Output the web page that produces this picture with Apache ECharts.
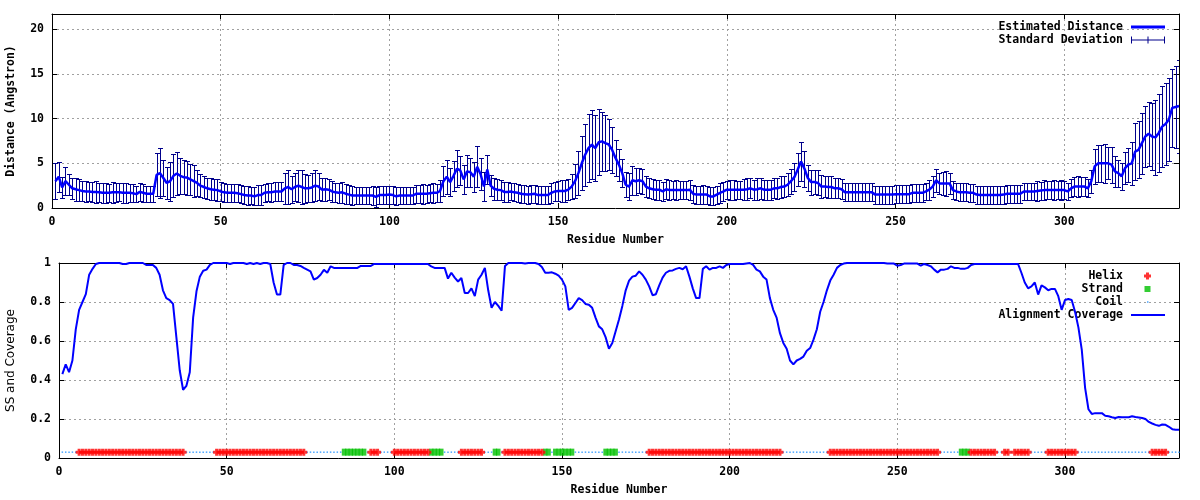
<!DOCTYPE html>
<html><head><meta charset="utf-8">
<script src="https://cdn.jsdelivr.net/npm/echarts@6/dist/echarts.min.js"></script>
<style>html,body{margin:0;padding:0;background:#fff}#c{width:1200px;height:500px}</style>
</head><body><div id="c"></div>
<script>
// ---------------- data ----------------
const residueCount = 334;

const distanceMean = [
3.0,3.5,2.3,3.0,2.6,2.2,2.1,2.0,1.9,1.85,
1.85,1.8,1.8,1.75,1.7,1.7,1.7,1.75,1.75,1.75,
1.7,1.7,1.7,1.65,1.55,1.8,1.7,1.6,1.6,1.6,
3.7,3.9,3.35,2.8,3.0,3.6,3.85,3.6,3.45,3.4,
3.2,3.0,2.8,2.5,2.35,2.2,2.1,2.05,2.0,1.85,
1.75,1.7,1.7,1.7,1.65,1.55,1.45,1.4,1.4,1.3,
1.45,1.45,1.7,1.75,1.75,1.85,1.85,1.85,2.2,2.35,
2.1,2.35,2.5,2.35,2.2,2.2,2.3,2.5,2.4,2.05,
2.1,2.05,1.85,1.75,1.7,1.75,1.6,1.5,1.4,1.4,
1.4,1.4,1.4,1.4,1.4,1.25,1.45,1.45,1.45,1.5,
1.45,1.3,1.4,1.4,1.4,1.4,1.4,1.6,1.6,1.6,
1.6,1.65,1.7,1.7,1.9,3.0,3.5,2.9,3.6,4.4,
4.2,3.2,4.1,4.0,3.5,4.6,3.8,2.4,4.3,2.5,
2.15,2.05,2.0,1.8,1.8,1.85,1.75,1.7,1.6,1.55,
1.5,1.55,1.6,1.45,1.45,1.45,1.45,1.7,1.85,1.9,
1.9,1.9,2.05,2.4,3.0,3.9,5.0,5.95,6.7,7.1,
6.7,7.35,7.45,7.25,7.1,6.5,5.6,4.85,3.9,2.6,
2.4,3.1,3.0,3.1,3.0,2.4,2.2,2.1,2.05,2.05,
1.85,2.1,2.0,2.0,2.0,2.0,2.0,2.0,2.05,1.6,
1.5,1.5,1.5,1.5,1.3,1.3,1.5,1.7,1.85,2.05,
2.05,2.05,2.05,2.05,2.05,2.1,2.2,2.05,2.1,2.2,
2.05,2.05,2.05,2.2,2.2,2.35,2.4,2.6,3.0,3.45,
4.3,5.2,4.4,3.35,2.9,2.9,2.8,2.4,2.4,2.35,
2.35,2.2,2.2,2.1,1.75,1.75,1.75,1.75,1.75,1.75,
1.75,1.75,1.75,1.5,1.5,1.5,1.5,1.5,1.5,1.55,
1.55,1.55,1.55,1.55,1.7,1.7,1.7,1.7,1.85,2.05,
2.4,3.1,2.75,2.75,2.75,2.75,2.0,1.85,1.75,1.75,
1.75,1.7,1.7,1.5,1.45,1.45,1.45,1.45,1.45,1.45,
1.45,1.5,1.6,1.6,1.6,1.6,1.6,1.85,1.85,1.85,
1.85,1.9,1.95,2.0,2.0,2.0,2.0,2.0,2.0,2.0,
1.85,2.2,2.4,2.4,2.4,2.4,2.2,3.0,4.65,5.0,
5.0,5.0,5.0,4.85,4.1,3.9,3.55,4.45,4.85,5.0,
6.3,6.5,7.25,8.0,8.3,8.0,7.9,8.4,9.1,9.4,
9.9,11.2,11.3,11.4
];

const distanceSD = [
2.0,1.7,1.2,1.6,1.2,1.2,1.3,1.2,1.1,1.2,
1.1,1.1,1.2,1.1,1.1,1.1,1.0,1.2,1.1,1.0,
1.1,1.1,1.0,1.0,0.9,1.0,1.0,0.9,0.9,0.9,
2.4,2.8,2.0,1.8,2.2,2.4,2.4,2.0,1.9,1.9,
1.7,1.8,1.5,1.3,1.2,1.2,1.2,1.2,1.2,1.1,
1.1,1.0,1.0,1.0,1.0,1.0,1.0,1.1,1.0,1.0,
1.1,1.1,1.0,1.0,1.1,1.1,1.1,1.1,1.7,1.9,
1.5,1.6,1.8,1.9,1.6,1.5,1.6,1.7,1.5,1.3,
1.3,1.2,1.2,1.1,1.1,1.2,1.1,1.1,1.1,1.0,
1.0,1.0,1.0,1.0,1.1,1.1,1.0,1.0,1.0,1.0,
1.0,1.0,1.0,1.0,1.0,1.0,1.0,1.0,1.0,1.1,
1.0,1.0,1.1,1.0,1.2,1.7,1.9,1.6,1.7,2.1,
1.6,1.6,1.8,1.6,1.7,2.3,1.8,1.6,1.6,1.2,
1.2,1.2,1.1,1.1,1.1,1.0,1.0,1.0,1.0,1.0,
1.0,1.0,1.0,1.0,1.0,1.0,1.0,1.1,1.1,1.1,
1.2,1.2,1.2,1.4,1.9,2.5,3.0,3.5,3.8,3.9,
3.7,3.7,3.3,3.1,2.9,2.6,2.0,1.8,1.6,1.4,
1.5,1.6,1.5,1.4,1.4,1.2,1.1,1.1,1.1,1.1,
1.1,1.1,1.1,1.0,1.1,1.0,1.0,1.0,1.1,1.0,
1.0,1.0,1.1,1.0,1.0,1.0,1.0,1.1,1.1,1.0,
1.1,1.1,1.0,1.0,1.2,1.2,1.1,1.1,1.2,1.2,
1.1,1.1,1.1,1.1,1.2,1.2,1.2,1.3,1.4,1.6,
1.8,2.2,2.0,1.5,1.4,1.3,1.4,1.3,1.2,1.2,
1.2,1.1,1.1,1.1,1.0,1.0,1.0,1.0,1.0,1.0,
1.0,1.0,1.0,1.0,1.0,1.0,1.0,1.0,1.0,1.0,
1.0,1.0,1.0,1.0,1.0,1.0,1.0,1.0,1.0,1.1,
1.2,1.3,1.2,1.3,1.4,1.2,1.0,1.0,1.0,1.0,
1.0,1.0,1.0,1.0,1.0,1.0,1.0,1.0,1.0,1.0,
1.0,1.0,1.0,1.0,1.0,1.0,1.0,1.0,1.0,1.0,
1.0,1.1,1.0,1.1,1.0,1.0,1.1,1.0,1.1,1.0,
1.0,1.0,1.1,1.2,1.1,1.1,1.0,1.3,2.0,2.1,
2.1,2.2,1.8,2.0,1.7,1.5,1.5,1.8,1.9,2.4,
3.2,3.2,3.4,3.4,3.6,3.8,4.2,4.4,4.5,4.6,
4.6,4.4,4.6,5.2
];

const alignmentCoverage = [
0.43,0.48,0.44,0.50,0.66,0.76,0.80,0.84,0.94,0.97,
0.995,1.0,1.0,1.0,1.0,1.0,1.0,1.0,0.995,0.995,
1.0,1.0,1.0,1.0,1.0,0.99,0.99,0.99,0.975,0.94,
0.86,0.82,0.81,0.79,0.62,0.45,0.35,0.37,0.44,0.72,
0.855,0.93,0.96,0.966,0.99,1.0,1.0,1.0,1.0,1.0,
0.995,1.0,1.0,1.0,1.0,0.995,1.0,0.995,1.0,0.995,
1.0,1.0,0.995,0.90,0.838,0.838,0.99,1.0,1.0,0.99,
0.99,0.985,0.975,0.966,0.957,0.915,0.923,0.94,0.965,0.95,
0.983,0.975,0.975,0.975,0.975,0.975,0.975,0.975,0.975,0.985,
0.985,0.985,0.985,0.995,0.995,0.995,0.995,0.995,0.995,0.995,
0.995,0.995,0.995,0.995,0.995,0.995,0.995,0.995,0.995,0.995,
0.983,0.975,0.975,0.975,0.975,0.92,0.95,0.925,0.905,0.923,
0.846,0.846,0.87,0.83,0.915,0.94,0.975,0.86,0.77,0.80,
0.78,0.755,0.985,1.0,1.0,1.0,1.0,1.0,0.997,1.0,
1.0,1.0,0.995,0.98,0.95,0.95,0.952,0.945,0.935,0.915,
0.88,0.76,0.77,0.795,0.82,0.81,0.79,0.786,0.77,0.72,
0.675,0.66,0.62,0.56,0.59,0.65,0.71,0.78,0.86,0.91,
0.93,0.935,0.957,0.94,0.915,0.88,0.835,0.84,0.885,0.925,
0.95,0.96,0.962,0.97,0.975,0.968,0.983,0.93,0.87,0.82,
0.82,0.97,0.983,0.966,0.975,0.975,0.983,0.975,0.99,0.995,
0.995,0.995,0.995,0.995,0.998,1.0,0.99,0.966,0.957,0.93,
0.915,0.82,0.76,0.72,0.64,0.59,0.56,0.50,0.48,0.50,
0.508,0.52,0.55,0.564,0.607,0.66,0.75,0.80,0.86,0.91,
0.94,0.975,0.99,0.997,1.0,1.0,1.0,1.0,1.0,1.0,
1.0,1.0,1.0,1.0,1.0,1.0,0.998,0.998,0.997,0.986,
0.99,0.997,0.997,0.997,0.997,0.997,0.986,0.995,0.99,0.983,
0.966,0.952,0.966,0.966,0.97,0.983,0.975,0.975,0.97,0.97,
0.975,0.99,0.995,0.995,0.995,0.995,0.995,0.995,0.995,0.995,
0.995,0.995,0.995,0.995,0.995,0.995,0.95,0.90,0.87,0.88,
0.90,0.838,0.885,0.875,0.86,0.867,0.867,0.83,0.76,0.81,
0.815,0.81,0.75,0.67,0.556,0.36,0.25,0.226,0.23,0.23,
0.23,0.217,0.214,0.209,0.205,0.21,0.209,0.209,0.209,0.214,
0.21,0.208,0.205,0.20,0.185,0.177,0.17,0.165,0.172,0.17,
0.16,0.148,0.145,0.145
];

// secondary structure segments (first residue, last residue)
const helixRanges = [[6,37],[47,73],[93,95],[100,110],[120,126],[133,144],[176,215],
  [230,262],[272,279],[282,283],[285,289],[295,303],[326,330]];
const strandRanges = [[85,91],[111,114],[130,131],[145,146],[148,153],[163,166],[269,271]];
const ssLevel = 0.03;

// axis ranges / ticks
const xRange = [0, 334];
const xTickStep = 50;
const distRange = [0, 21.7];
const distTickStep = 5;
const covRange = [0, 1];
const covTickStep = 0.2;

// ---------------- build ----------------
const residues = Array.from({length: residueCount}, (_, i) => i + 1);
const inRanges = (r, ranges) => ranges.some(([a, b]) => r >= a && r <= b);
const ssOf = r => inRanges(r, helixRanges) ? 'H' : (inRanges(r, strandRanges) ? 'E' : 'C');

const meanData = residues.map((r, i) => [r, distanceMean[i]]);
const errData = residues.map((r, i) => [r, distanceMean[i] - distanceSD[i], distanceMean[i] + distanceSD[i]]);
const covData = residues.map((r, i) => [r, alignmentCoverage[i]]);
const helixData = residues.filter(r => ssOf(r) === 'H').map(r => [r, ssLevel]);
const strandData = residues.filter(r => ssOf(r) === 'E').map(r => [r, ssLevel]);
const coilData = residues.filter(r => ssOf(r) === 'C').map(r => [r, ssLevel]);

const FONT = 'DejaVu Sans Mono';
const txt = {fontFamily: FONT, fontWeight: 'bold', fontSize: 11.5, color: '#000'};
const gridLine = {show: true, lineStyle: {color: '#a0a0a0', type: [2, 3], width: 1}};
const axLine = {show: true, onZero: false, lineStyle: {color: '#000', width: 1}};
const tick = {show: true, inside: true, length: 5, lineStyle: {color: '#000'}};

function xAxisPair(gridIndex) {
  return [
    {type: 'value', gridIndex, position: 'bottom', min: xRange[0], max: xRange[1], interval: xTickStep,
     axisLine: axLine, axisTick: tick, splitLine: gridLine,
     axisLabel: Object.assign({margin: 8, showMaxLabel: false}, txt),
     name: 'Residue Number', nameLocation: 'middle', nameGap: 26, nameTextStyle: txt},
    {type: 'value', gridIndex, position: 'top', min: xRange[0], max: xRange[1], interval: xTickStep,
     axisLine: axLine, axisTick: tick, splitLine: {show: false}, axisLabel: {show: false}}
  ];
}
function yAxisPair(gridIndex, range, step, showMax, name, nameGap, nameStyle) {
  return [
    {type: 'value', gridIndex, position: 'left', min: range[0], max: range[1], interval: step,
     axisLine: axLine, axisTick: tick, splitLine: gridLine,
     axisLabel: Object.assign({margin: 8, showMaxLabel: showMax}, txt),
     name, nameLocation: 'middle', nameGap, nameTextStyle: nameStyle},
    {type: 'value', gridIndex, position: 'right', min: range[0], max: range[1], interval: step,
     axisLine: axLine, axisTick: tick, splitLine: {show: false}, axisLabel: {show: false}}
  ];
}

function legendRow(name, rightPx, topPx, icon, w, h) {
  return {
    show: true, data: [{name, icon}], right: rightPx, top: topPx, padding: 0,
    orient: 'vertical', align: 'right', itemWidth: w, itemHeight: h, selectedMode: false,
    itemStyle: {borderWidth: 0}, lineStyle: {width: 0},
    textStyle: {fontFamily: FONT, fontWeight: 'bold', fontSize: 11.5, color: '#000'}
  };
}
// icon boxes include an invisible 3px lead (M-3,0) so text sits 8px left of the sample
const ICON_LINE3 = 'path://M-3,0M0,0H34V3H0Z';
const ICON_ERR = 'path://M-3,0M0,0H1V7H0Z M33,0H34V7H33Z M0,3H34V4H0Z M16.5,0H17.5V7H16.5Z';
const ICON_PLUS = 'path://M-3,0M34,7M15,0H18V2H20V5H18V7H15V5H13V2H15Z';
const ICON_SQ = 'path://M-3,0M34,7M13.5,0.5H19.5V6.5H13.5Z';
const ICON_DOT = 'path://M-3,0M34,7M16,2.75H17.5V4.25H16Z';
const ICON_LINE2 = 'path://M-3,0M0,0H34V2H0Z';

const PLUS_SYMBOL = 'path://M2,0H5V2H7V5H5V7H2V5H0V2H2Z';

const option = {
  backgroundColor: '#fff',
  animation: false,
  grid: [
    {left: 52, right: 21, top: 14, height: 194, outerBoundsMode: 'none', containLabel: false},
    {left: 59, right: 21, top: 263, height: 195, outerBoundsMode: 'none', containLabel: false}
  ],
  xAxis: [...xAxisPair(0), ...xAxisPair(1)],
  yAxis: [
    ...yAxisPair(0, distRange, distTickStep, false, 'Distance (Angstron)', 35, txt),
    ...yAxisPair(1, covRange, covTickStep, true, 'SS and Coverage', 42,
      {fontFamily: 'DejaVu Sans', fontSize: 12, color: '#000'})
  ],
  legend: [
    legendRow('Estimated Distance', 35, 21, ICON_LINE3, 37, 3),
    legendRow('Standard Deviation', 35, 34, ICON_ERR, 37, 7),
    legendRow('Helix', 35, 270, ICON_PLUS, 37, 7),
    legendRow('Strand', 35, 283, ICON_SQ, 37, 7),
    legendRow('Coil', 35, 296, ICON_DOT, 37, 7),
    legendRow('Alignment Coverage', 35, 309, ICON_LINE2, 37, 2)
  ],
  series: [
    {
      name: 'Standard Deviation', type: 'custom', xAxisIndex: 0, yAxisIndex: 0,
      data: errData, encode: {x: 0, y: [1, 2]}, clip: true, z: 2,
      itemStyle: {color: '#00008b'},
      renderItem: function (params, api) {
        const r = api.value(0);
        const lo = api.coord([r, api.value(1)]);
        const hi = api.coord([r, api.value(2)]);
        const x = Math.round(lo[0]) + 0.5;
        const yl = Math.round(lo[1]) + 0.5, yh = Math.round(hi[1]) + 0.5;
        const cap = 2.5;
        const style = {stroke: '#00008b', lineWidth: 1};
        return {type: 'group', children: [
          {type: 'line', shape: {x1: x, y1: yl, x2: x, y2: yh}, style},
          {type: 'line', shape: {x1: x - cap, y1: yl, x2: x + cap, y2: yl}, style},
          {type: 'line', shape: {x1: x - cap, y1: yh, x2: x + cap, y2: yh}, style}
        ]};
      }
    },
    {
      name: 'Estimated Distance', type: 'line', xAxisIndex: 0, yAxisIndex: 0,
      data: meanData, showSymbol: false, symbol: 'none', z: 3,
      itemStyle: {color: '#0000ff'}, lineStyle: {color: '#0000ff', width: 2.5}
    },
    {
      name: 'Coil', type: 'scatter', xAxisIndex: 2, yAxisIndex: 2, data: coilData,
      symbol: 'rect', symbolSize: [1.5, 1.5], itemStyle: {color: '#1e90ff'}, z: 2
    },
    {
      name: 'Strand', type: 'scatter', xAxisIndex: 2, yAxisIndex: 2, data: strandData,
      symbol: 'rect', symbolSize: [4.5, 7], itemStyle: {color: '#00c000'}, z: 3
    },
    {
      name: 'Helix', type: 'scatter', xAxisIndex: 2, yAxisIndex: 2, data: helixData,
      symbol: PLUS_SYMBOL, symbolSize: [7, 7], itemStyle: {color: '#ff0000'}, z: 4
    },
    {
      name: 'Alignment Coverage', type: 'line', xAxisIndex: 2, yAxisIndex: 2,
      data: covData, showSymbol: false, symbol: 'none', z: 5,
      itemStyle: {color: '#0000ff'}, lineStyle: {color: '#0000ff', width: 2}
    }
  ]
};

const chart = echarts.init(document.getElementById('c'), null, {renderer: 'canvas'});
chart.setOption(option);
</script>
</body></html>
